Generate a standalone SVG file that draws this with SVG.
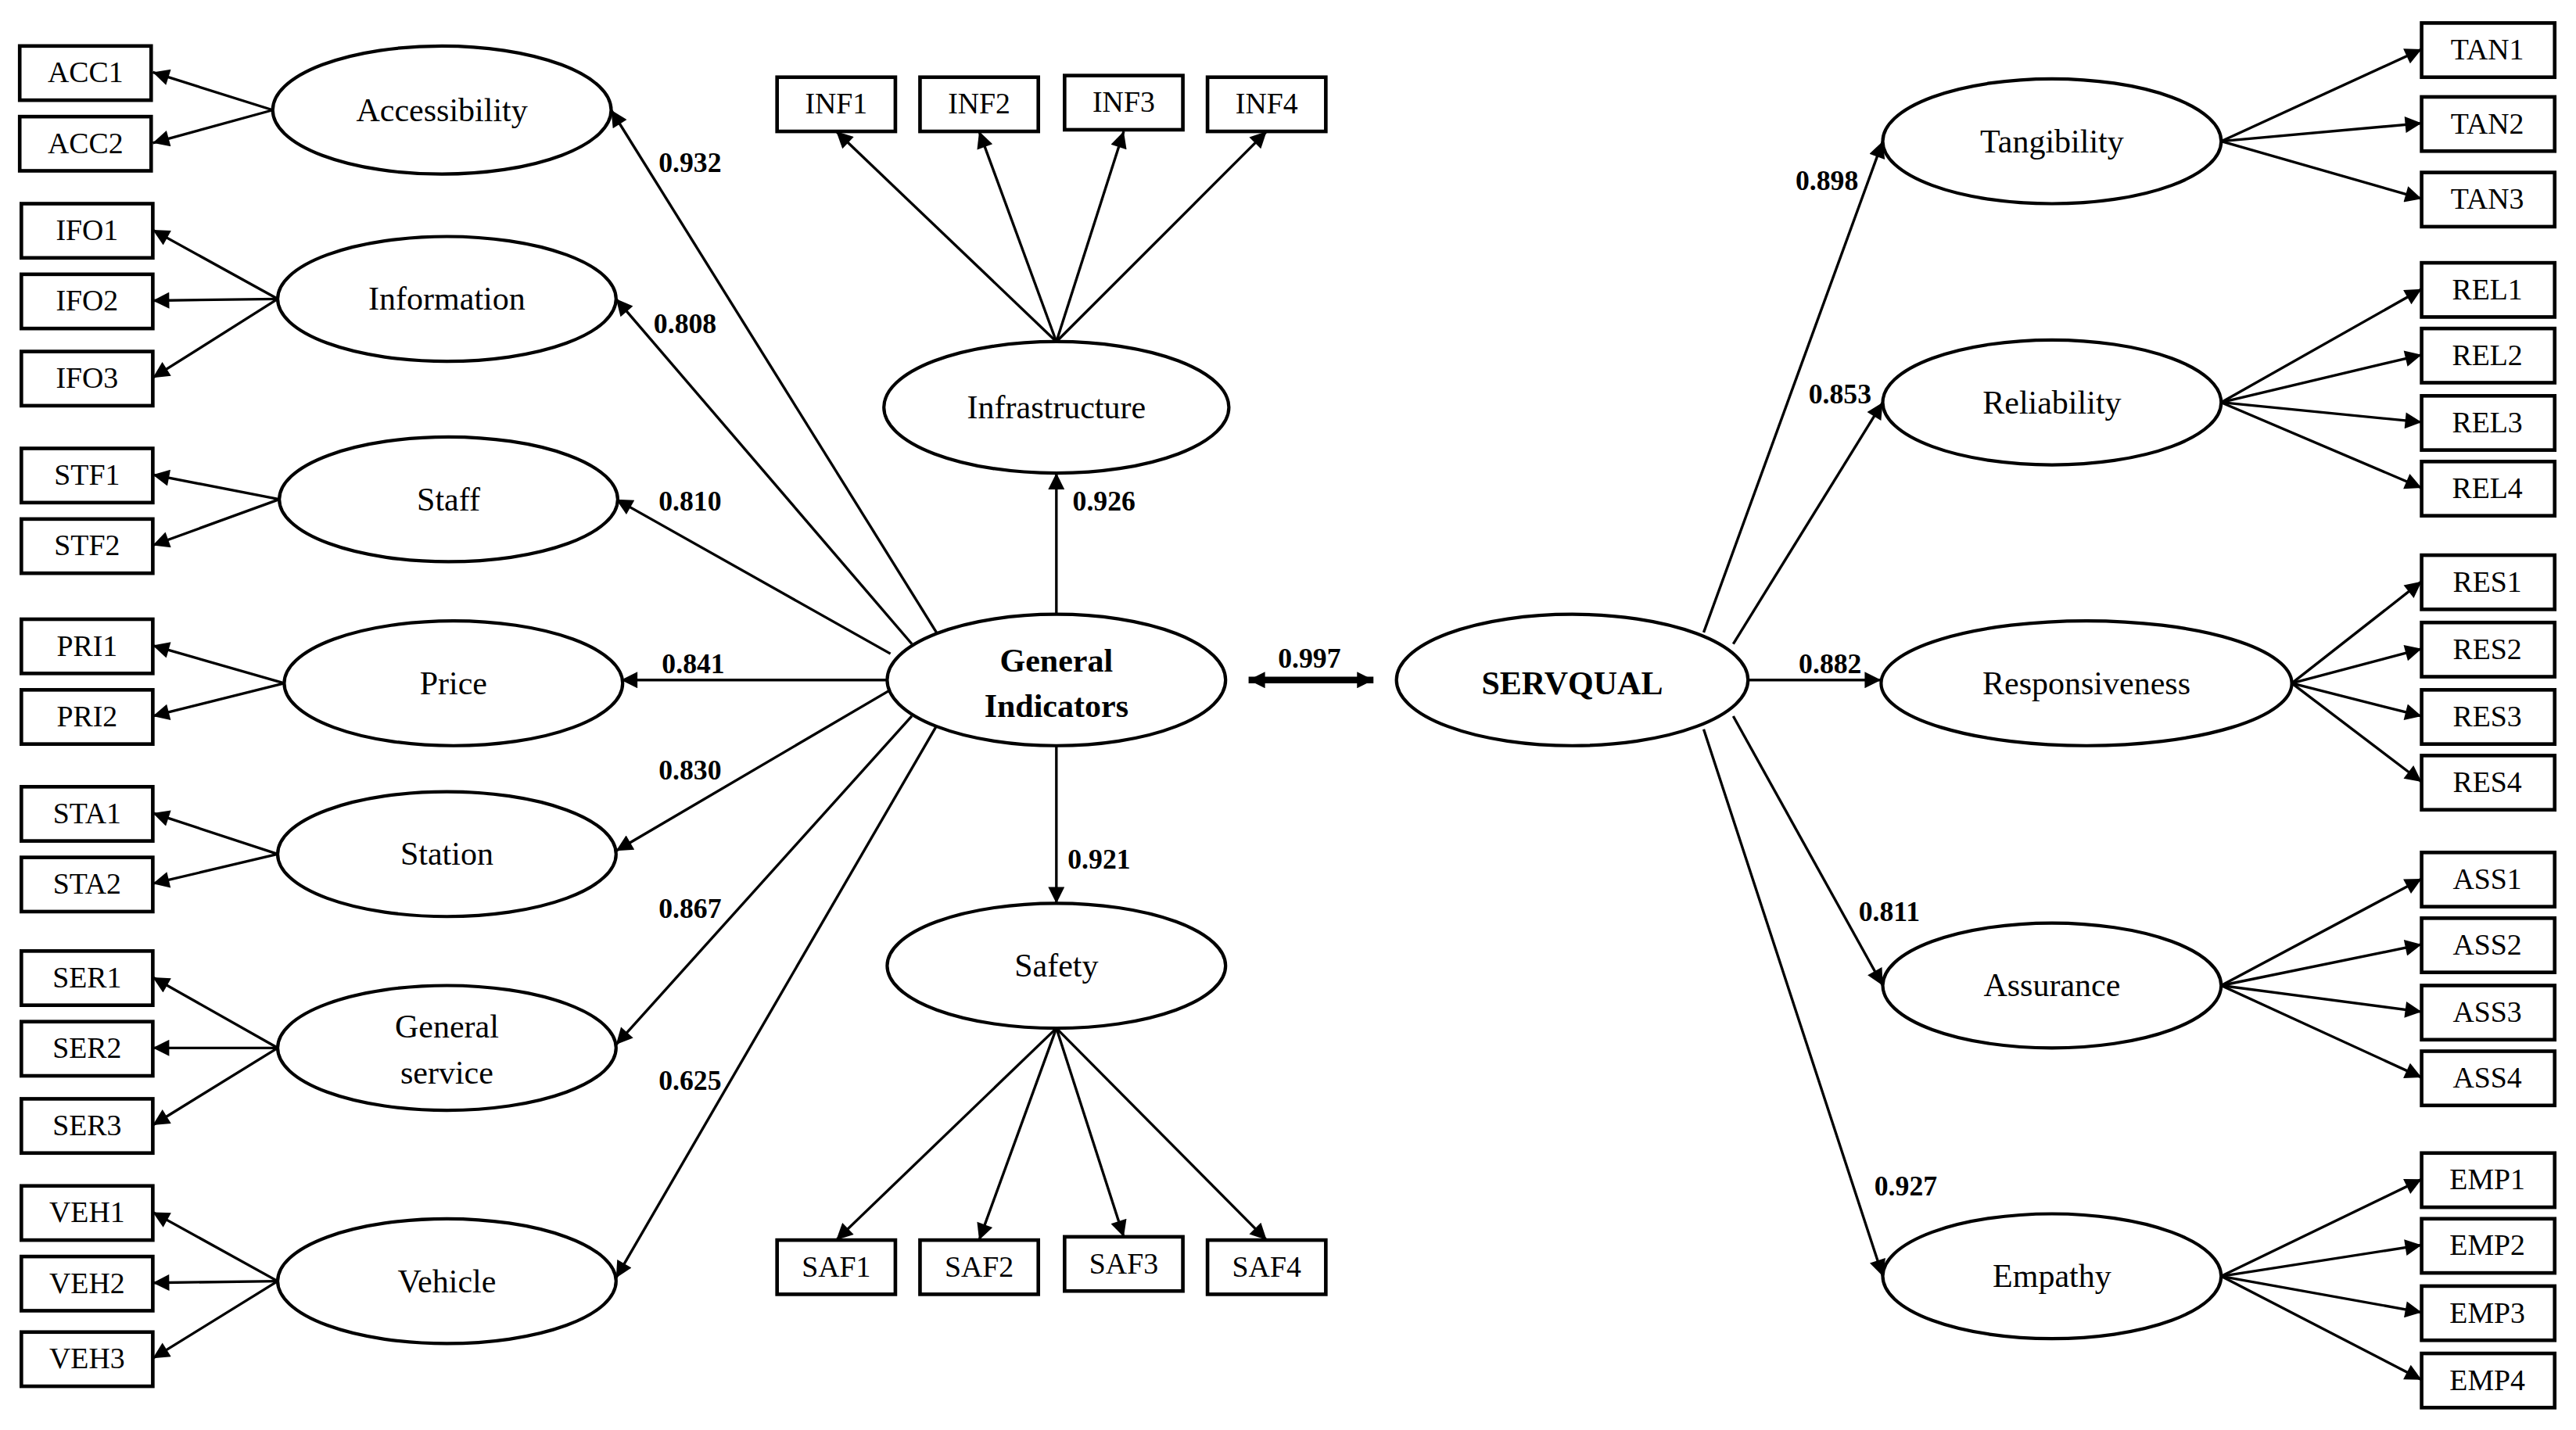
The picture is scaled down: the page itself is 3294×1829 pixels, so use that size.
<svg xmlns="http://www.w3.org/2000/svg" width="3294" height="1829" viewBox="0 0 3294 1829">
<style>
.b{fill:#fff;stroke:#000;stroke-width:2.2}
.e{fill:#fff;stroke:#000;stroke-width:2}
.t{font-family:"Liberation Serif",serif;font-size:18px;text-anchor:middle;dominant-baseline:central}
.l{font-family:"Liberation Serif",serif;font-size:20px;text-anchor:middle;dominant-baseline:central}
.w{font-family:"Liberation Serif",serif;font-size:17px;font-weight:bold;text-anchor:middle;dominant-baseline:central}
.n{font-family:"Liberation Serif",serif;font-size:20px;font-weight:bold;text-anchor:middle;dominant-baseline:central}
.c line{stroke:#000;stroke-width:1.6;marker-end:url(#a)}
</style>
<defs>
<marker id="a" viewBox="0 0 10 10" refX="10" refY="5" markerWidth="14" markerHeight="10" markerUnits="userSpaceOnUse" orient="auto"><path d="M0,0L10,5L0,10z"/></marker>
<marker id="s" viewBox="0 0 10 10" refX="0" refY="5" markerWidth="14" markerHeight="10" markerUnits="userSpaceOnUse" orient="auto"><path d="M10,0L0,5L10,10z"/></marker>
</defs>
<rect width="3294" height="1829" fill="#fff"/>
<g transform="scale(2.1008)">
<g class="c" id="connectors">
<line x1="166" y1="67" x2="93" y2="44"/><line x1="166" y1="67" x2="93" y2="87"/>
<line x1="169" y1="182" x2="93" y2="140"/><line x1="169" y1="182" x2="93" y2="183"/><line x1="169" y1="182" x2="93" y2="230"/>
<line x1="170" y1="304" x2="93" y2="289"/><line x1="170" y1="304" x2="93" y2="332"/>
<line x1="173" y1="416" x2="93" y2="393"/><line x1="173" y1="416" x2="93" y2="436"/>
<line x1="169" y1="520" x2="93" y2="495"/><line x1="169" y1="520" x2="93" y2="538"/>
<line x1="169" y1="638" x2="93" y2="595"/><line x1="169" y1="638" x2="93" y2="638"/><line x1="169" y1="638" x2="93" y2="685"/>
<line x1="169" y1="780" x2="93" y2="738"/><line x1="169" y1="780" x2="93" y2="781"/><line x1="169" y1="780" x2="93" y2="827"/>
<line x1="643" y1="208" x2="509" y2="80"/><line x1="643" y1="208" x2="596" y2="80"/><line x1="643" y1="208" x2="684" y2="80"/><line x1="643" y1="208" x2="771" y2="80"/>
<line x1="643" y1="626" x2="509" y2="755"/><line x1="643" y1="626" x2="596" y2="755"/><line x1="643" y1="626" x2="684" y2="753"/><line x1="643" y1="626" x2="771" y2="755"/>
<line x1="643" y1="374" x2="643" y2="288"/><line x1="643" y1="454" x2="643" y2="550"/>
<line x1="570" y1="385" x2="372" y2="67"/><line x1="555" y1="392" x2="375" y2="182"/><line x1="542" y1="398" x2="375" y2="304"/>
<line x1="540" y1="414" x2="378" y2="414"/><line x1="542" y1="420" x2="375" y2="518"/><line x1="555" y1="436" x2="375" y2="636"/><line x1="570" y1="442" x2="375" y2="778"/>
<line x1="1037" y1="385" x2="1146" y2="86"/><line x1="1055" y1="392" x2="1146" y2="245"/><line x1="1064" y1="414" x2="1145" y2="414"/><line x1="1055" y1="436" x2="1146" y2="600"/><line x1="1037" y1="444" x2="1146" y2="777"/>
<line x1="1352" y1="86" x2="1474" y2="30"/><line x1="1352" y1="86" x2="1474" y2="75"/><line x1="1352" y1="86" x2="1474" y2="121"/>
<line x1="1352" y1="245" x2="1474" y2="176"/><line x1="1352" y1="245" x2="1474" y2="216"/><line x1="1352" y1="245" x2="1474" y2="257"/><line x1="1352" y1="245" x2="1474" y2="297"/>
<line x1="1395" y1="416" x2="1474" y2="354"/><line x1="1395" y1="416" x2="1474" y2="395"/><line x1="1395" y1="416" x2="1474" y2="436"/><line x1="1395" y1="416" x2="1474" y2="476"/>
<line x1="1352" y1="600" x2="1474" y2="535"/><line x1="1352" y1="600" x2="1474" y2="575"/><line x1="1352" y1="600" x2="1474" y2="616"/><line x1="1352" y1="600" x2="1474" y2="656"/>
<line x1="1352" y1="777" x2="1474" y2="718"/><line x1="1352" y1="777" x2="1474" y2="758"/><line x1="1352" y1="777" x2="1474" y2="799"/><line x1="1352" y1="777" x2="1474" y2="840"/>
<line x1="760" y1="414" x2="836" y2="414" style="stroke-width:4;marker-end:url(#a);marker-start:url(#s)"/>
</g>
<g id="labels">
<text class="w" x="420" y="99">0.932</text><text class="w" x="417" y="197">0.808</text><text class="w" x="420" y="305">0.810</text>
<text class="w" x="422" y="404">0.841</text><text class="w" x="420" y="469">0.830</text><text class="w" x="420" y="553">0.867</text><text class="w" x="420" y="658">0.625</text>
<text class="w" x="672" y="305">0.926</text><text class="w" x="669" y="523">0.921</text><text class="w" x="797" y="401">0.997</text>
<text class="w" x="1112" y="110">0.898</text><text class="w" x="1120" y="240">0.853</text><text class="w" x="1114" y="404">0.882</text><text class="w" x="1150" y="555">0.811</text><text class="w" x="1160" y="722">0.927</text>
</g>
<g id="left-boxes">
<g id="ACC1"><rect class="b" x="12" y="28" width="80" height="33"/><text class="t" x="52" y="44">ACC1</text></g>
<g id="ACC2"><rect class="b" x="12" y="71" width="80" height="33"/><text class="t" x="52" y="87">ACC2</text></g>
<g id="IFO1"><rect class="b" x="13" y="124" width="80" height="33"/><text class="t" x="53" y="140">IFO1</text></g>
<g id="IFO2"><rect class="b" x="13" y="167" width="80" height="33"/><text class="t" x="53" y="183">IFO2</text></g>
<g id="IFO3"><rect class="b" x="13" y="214" width="80" height="33"/><text class="t" x="53" y="230">IFO3</text></g>
<g id="STF1"><rect class="b" x="13" y="273" width="80" height="33"/><text class="t" x="53" y="289">STF1</text></g>
<g id="STF2"><rect class="b" x="13" y="316" width="80" height="33"/><text class="t" x="53" y="332">STF2</text></g>
<g id="PRI1"><rect class="b" x="13" y="377" width="80" height="33"/><text class="t" x="53" y="393">PRI1</text></g>
<g id="PRI2"><rect class="b" x="13" y="420" width="80" height="33"/><text class="t" x="53" y="436">PRI2</text></g>
<g id="STA1"><rect class="b" x="13" y="479" width="80" height="33"/><text class="t" x="53" y="495">STA1</text></g>
<g id="STA2"><rect class="b" x="13" y="522" width="80" height="33"/><text class="t" x="53" y="538">STA2</text></g>
<g id="SER1"><rect class="b" x="13" y="579" width="80" height="33"/><text class="t" x="53" y="595">SER1</text></g>
<g id="SER2"><rect class="b" x="13" y="622" width="80" height="33"/><text class="t" x="53" y="638">SER2</text></g>
<g id="SER3"><rect class="b" x="13" y="669" width="80" height="33"/><text class="t" x="53" y="685">SER3</text></g>
<g id="VEH1"><rect class="b" x="13" y="722" width="80" height="33"/><text class="t" x="53" y="738">VEH1</text></g>
<g id="VEH2"><rect class="b" x="13" y="765" width="80" height="33"/><text class="t" x="53" y="781">VEH2</text></g>
<g id="VEH3"><rect class="b" x="13" y="811" width="80" height="33"/><text class="t" x="53" y="827">VEH3</text></g>
</g>
<g id="mid-boxes">
<g id="INF1"><rect class="b" x="473" y="47" width="72" height="33"/><text class="t" x="509" y="63">INF1</text></g>
<g id="INF2"><rect class="b" x="560" y="47" width="72" height="33"/><text class="t" x="596" y="63">INF2</text></g>
<g id="INF3"><rect class="b" x="648" y="46" width="72" height="33"/><text class="t" x="684" y="62">INF3</text></g>
<g id="INF4"><rect class="b" x="735" y="47" width="72" height="33"/><text class="t" x="771" y="63">INF4</text></g>
<g id="SAF1"><rect class="b" x="473" y="755" width="72" height="33"/><text class="t" x="509" y="771">SAF1</text></g>
<g id="SAF2"><rect class="b" x="560" y="755" width="72" height="33"/><text class="t" x="596" y="771">SAF2</text></g>
<g id="SAF3"><rect class="b" x="648" y="753" width="72" height="33"/><text class="t" x="684" y="769">SAF3</text></g>
<g id="SAF4"><rect class="b" x="735" y="755" width="72" height="33"/><text class="t" x="771" y="771">SAF4</text></g>
</g>
<g id="right-boxes">
<g id="TAN1"><rect class="b" x="1474" y="14" width="81" height="33"/><text class="t" x="1514" y="30">TAN1</text></g>
<g id="TAN2"><rect class="b" x="1474" y="59" width="81" height="33"/><text class="t" x="1514" y="75">TAN2</text></g>
<g id="TAN3"><rect class="b" x="1474" y="105" width="81" height="33"/><text class="t" x="1514" y="121">TAN3</text></g>
<g id="REL1"><rect class="b" x="1474" y="160" width="81" height="33"/><text class="t" x="1514" y="176">REL1</text></g>
<g id="REL2"><rect class="b" x="1474" y="200" width="81" height="33"/><text class="t" x="1514" y="216">REL2</text></g>
<g id="REL3"><rect class="b" x="1474" y="241" width="81" height="33"/><text class="t" x="1514" y="257">REL3</text></g>
<g id="REL4"><rect class="b" x="1474" y="281" width="81" height="33"/><text class="t" x="1514" y="297">REL4</text></g>
<g id="RES1"><rect class="b" x="1474" y="338" width="81" height="33"/><text class="t" x="1514" y="354">RES1</text></g>
<g id="RES2"><rect class="b" x="1474" y="379" width="81" height="33"/><text class="t" x="1514" y="395">RES2</text></g>
<g id="RES3"><rect class="b" x="1474" y="420" width="81" height="33"/><text class="t" x="1514" y="436">RES3</text></g>
<g id="RES4"><rect class="b" x="1474" y="460" width="81" height="33"/><text class="t" x="1514" y="476">RES4</text></g>
<g id="ASS1"><rect class="b" x="1474" y="519" width="81" height="33"/><text class="t" x="1514" y="535">ASS1</text></g>
<g id="ASS2"><rect class="b" x="1474" y="559" width="81" height="33"/><text class="t" x="1514" y="575">ASS2</text></g>
<g id="ASS3"><rect class="b" x="1474" y="600" width="81" height="33"/><text class="t" x="1514" y="616">ASS3</text></g>
<g id="ASS4"><rect class="b" x="1474" y="640" width="81" height="33"/><text class="t" x="1514" y="656">ASS4</text></g>
<g id="EMP1"><rect class="b" x="1474" y="702" width="81" height="33"/><text class="t" x="1514" y="718">EMP1</text></g>
<g id="EMP2"><rect class="b" x="1474" y="742" width="81" height="33"/><text class="t" x="1514" y="758">EMP2</text></g>
<g id="EMP3"><rect class="b" x="1474" y="783" width="81" height="33"/><text class="t" x="1514" y="799">EMP3</text></g>
<g id="EMP4"><rect class="b" x="1474" y="824" width="81" height="33"/><text class="t" x="1514" y="840">EMP4</text></g>
</g>
<g id="latents">
<g id="Accessibility"><ellipse class="e" cx="269" cy="67" rx="103" ry="39"/><text class="l" x="269" y="67">Accessibility</text></g>
<g id="Information"><ellipse class="e" cx="272" cy="182" rx="103" ry="38"/><text class="l" x="272" y="182">Information</text></g>
<g id="Staff"><ellipse class="e" cx="273" cy="304" rx="103" ry="38"/><text class="l" x="273" y="304">Staff</text></g>
<g id="Price"><ellipse class="e" cx="276" cy="416" rx="103" ry="38"/><text class="l" x="276" y="416">Price</text></g>
<g id="Station"><ellipse class="e" cx="272" cy="520" rx="103" ry="38"/><text class="l" x="272" y="520">Station</text></g>
<g id="GeneralService"><ellipse class="e" cx="272" cy="638" rx="103" ry="38"/><text class="l" x="272" y="625">General</text><text class="l" x="272" y="653">service</text></g>
<g id="Vehicle"><ellipse class="e" cx="272" cy="780" rx="103" ry="38"/><text class="l" x="272" y="780">Vehicle</text></g>
<g id="Infrastructure"><ellipse class="e" cx="643" cy="248" rx="105" ry="40"/><text class="l" x="643" y="248">Infrastructure</text></g>
<g id="Safety"><ellipse class="e" cx="643" cy="588" rx="103" ry="38"/><text class="l" x="643" y="588">Safety</text></g>
<g id="GeneralIndicators"><ellipse class="e" cx="643" cy="414" rx="103" ry="40"/><text class="n" x="643" y="402">General</text><text class="n" x="643" y="430">Indicators</text></g>
<g id="SERVQUAL"><ellipse class="e" cx="957" cy="414" rx="107" ry="40"/><text class="n" x="957" y="416">SERVQUAL</text></g>
<g id="Tangibility"><ellipse class="e" cx="1249" cy="86" rx="103" ry="38"/><text class="l" x="1249" y="86">Tangibility</text></g>
<g id="Reliability"><ellipse class="e" cx="1249" cy="245" rx="103" ry="38"/><text class="l" x="1249" y="245">Reliability</text></g>
<g id="Responsiveness"><ellipse class="e" cx="1270" cy="416" rx="125" ry="38"/><text class="l" x="1270" y="416">Responsiveness</text></g>
<g id="Assurance"><ellipse class="e" cx="1249" cy="600" rx="103" ry="38"/><text class="l" x="1249" y="600">Assurance</text></g>
<g id="Empathy"><ellipse class="e" cx="1249" cy="777" rx="103" ry="38"/><text class="l" x="1249" y="777">Empathy</text></g>
</g>
</g>
</svg>
